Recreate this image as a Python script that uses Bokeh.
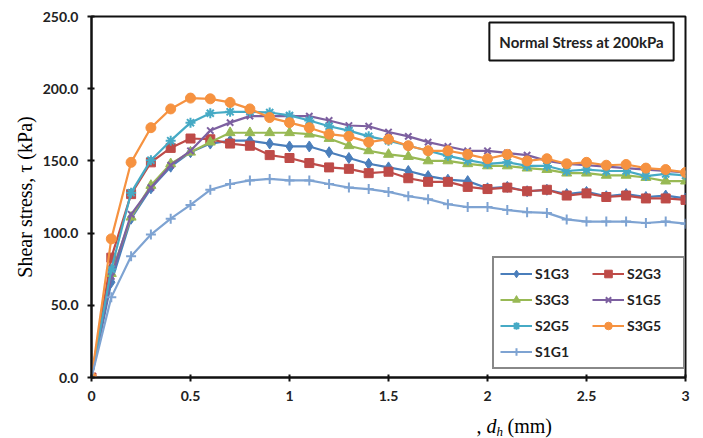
import math
from bokeh.plotting import figure
from bokeh.models import (Legend, LegendItem, Label, FixedTicker, LinearAxis,
                          NumeralTickFormatter, Range1d)
from bokeh.embed import file_html
from bokeh.resources import INLINE

# ---------------- data ----------------
dh = [0.0, 0.1, 0.2, 0.3, 0.4, 0.5, 0.6, 0.7, 0.8, 0.9, 1.0,
      1.1, 1.2, 1.3, 1.4, 1.5, 1.6, 1.7, 1.8, 1.9, 2.0,
      2.1, 2.2, 2.3, 2.4, 2.5, 2.6, 2.7, 2.8, 2.9, 3.0]

s1g3 = [0, 66, 110, 131, 146, 156, 162, 164, 164, 162, 160,
        160, 156, 152, 148, 145.5, 143, 139.5, 137, 136, 131,
        132, 129, 130, 127, 128.5, 125.5, 127, 125, 126, 124]
s2g3 = [0, 83, 127, 149, 159, 165.5, 165, 162, 160.5, 154, 152,
        148.5, 145.5, 144.5, 141.5, 142.5, 138, 135.5, 135.5, 132, 130.5,
        131.5, 129, 130, 126, 127.5, 125, 126, 124, 124, 123]
s3g3 = [0, 72, 111, 133, 148, 156, 163, 169.5, 169.5, 169.5, 169.5,
        168.5, 165.5, 160.5, 157, 154.5, 153, 150, 150, 148, 146.5,
        146.5, 145, 144, 141.5, 141.5, 140, 140, 138.5, 136, 136]
s1g5 = [0, 70, 113, 131.5, 147, 157, 171, 176.5, 181, 181, 181,
        181, 178, 174.5, 174, 170, 167, 163, 160, 157, 157,
        155.5, 154, 150, 148, 147, 146, 145, 144, 143, 142]
s2g5 = [0, 75, 128, 150.5, 164, 176.5, 183, 184, 184, 183.5, 181.5,
        178, 174, 171, 167, 164, 160.5, 157, 153.5, 150.5, 148,
        149, 146.5, 146.5, 143, 144, 143, 143, 139.5, 141, 140]
s3g5 = [0, 96, 149, 173, 186, 193.5, 193, 190.5, 186, 180, 176.5,
        173, 168.5, 167, 163, 165, 160.5, 157, 157, 154.5, 151.5,
        154.5, 150, 151.5, 148, 149, 147, 147.5, 145, 144, 142]
s1g1 = [0, 55.5, 84, 99, 110, 119.5, 130, 134, 136.5, 137.5, 136.5,
        136.5, 134, 131.5, 130.5, 128.5, 125.5, 123.5, 120, 118, 118,
        116, 114.5, 114, 109.5, 108, 108, 108, 107, 108, 106.5]

series_names = ["S1G3", "S2G3", "S3G3", "S1G5", "S2G5", "S3G5", "S1G1"]
series_values = [s1g3, s2g3, s3g3, s1g5, s2g5, s3g5, s1g1]

x_ticks = [0, 0.5, 1, 1.5, 2, 2.5, 3]
y_ticks = [0, 50, 100, 150, 200, 250]

title_text = "Normal Stress at 200kPa"
y_label_text = "Shear stress, \u03c4 (kPa)"
x_label_parts = [",", "d", "h", "(mm)"]

# ---------------- styles ----------------
colors = ["#4A7EBB", "#BE4B48", "#98B954", "#7D60A0", "#46AAC5", "#F69240", "#7EA3D2"]
markers = ["diamond", "square", "triangle", "x", "asterisk", "circle", "cross"]
msizes = [11, 9, 10, 9, 10, 10, 10]

BOLD_FONT = "Lato"
SERIF = "Liberation Serif"

p = figure(width=703, height=438, output_backend="svg", toolbar_location=None,
           x_range=Range1d(0, 3), y_range=Range1d(0, 250),
           min_border_left=91, min_border_right=18,
           min_border_top=16, min_border_bottom=61)

p.background_fill_color = "white"
p.border_fill_color = "white"
p.outline_line_color = "#111111"
p.outline_line_width = 2
p.xgrid.visible = False
p.ygrid.visible = False

for ax in (p.xaxis[0], p.yaxis[0]):
    ax.axis_line_color = "#111111"
    ax.axis_line_width = 2
    ax.major_tick_line_color = "#111111"
    ax.major_tick_line_width = 2
    ax.major_tick_in = 3
    ax.major_tick_out = 4
    ax.minor_tick_line_color = None
    ax.major_label_text_font = BOLD_FONT
    ax.major_label_text_font_style = "bold"
    ax.major_label_text_font_size = "14px"
    ax.major_label_text_color = "#222222"

p.xaxis[0].ticker = FixedTicker(ticks=x_ticks)
p.yaxis[0].ticker = FixedTicker(ticks=y_ticks)
p.xaxis[0].formatter = NumeralTickFormatter(format="0[.]0")
p.yaxis[0].formatter = NumeralTickFormatter(format="0.0")
p.xaxis[0].major_label_standoff = 9
p.yaxis[0].major_label_standoff = 9

# y-axis title: a tick-less extra axis whose bounds centre the label like the reference
ylab = LinearAxis(bounds=(0, 236), ticker=FixedTicker(ticks=[]),
                  axis_label=y_label_text, axis_line_color=None,
                  major_tick_line_color=None, minor_tick_line_color=None,
                  major_tick_in=0, major_tick_out=0, minor_tick_in=0, minor_tick_out=0,
                  major_label_text_font_size="0px", axis_label_standoff=4,
                  axis_label_text_font=SERIF, axis_label_text_font_style="normal",
                  axis_label_text_font_size="20px", axis_label_text_color="black")
p.add_layout(ylab, "left")

items = {}
for name, vals, c, m, s in zip(series_names, series_values, colors, markers, msizes):
    lr = p.line(dh, vals, line_color=c, line_width=2.2)
    sr = p.scatter(dh, vals, marker=m, size=s, fill_color=c, line_color=c,
                   line_width=2 if m in ("x", "asterisk", "cross") else 1)
    items[name] = LegendItem(label=name, renderers=[lr, sr])

# legend fills column by column: arrange so rows read S1G3 S2G3 / S3G3 S1G5 / S2G5 S3G5 / S1G1
legend_order = ["S1G3", "S3G3", "S2G5", "S1G1", "S2G3", "S1G5", "S3G5"]
legend = Legend(items=[items[n] for n in legend_order], ncols=2, location=(401, 8))
legend.margin = 0
legend.padding = 6
legend.spacing = 7
legend.glyph_width = 32
legend.glyph_height = 19
legend.label_height = 19
legend.label_width = 50
legend.label_standoff = 3
legend.label_text_font = BOLD_FONT
legend.label_text_font_style = "bold"
legend.label_text_font_size = "14px"
legend.label_text_color = "#222222"
legend.border_line_color = "#111111"
legend.border_line_width = 2
legend.background_fill_color = "white"
legend.background_fill_alpha = 1
p.add_layout(legend, "center")

def dx(px):
    return (px - 91) / 198.0

def dy(py):
    return (377 - py) / 1.444

p.add_layout(Label(x=dx(581), y=dy(41), text=title_text,
                   text_align="center", text_baseline="middle",
                   text_font=BOLD_FONT, text_font_style="bold",
                   text_font_size="15px", text_color="#222222",
                   border_line_color="#111111", border_line_width=2,
                   background_fill_color="white", padding=10))

# x-axis title with mixed styles ", d_h (mm)".  Pieces live in side panels
# (so they are not clipped to the frame); spread over panels that have spare room.
# (text centre positions in pixels)
xl_specs = [
    (x_label_parts[0], 476, 425, "normal", "20px", "right"),
    (x_label_parts[1], 486, 425, "italic", "20px", "left"),
    (x_label_parts[2], 496, 431, "italic", "13px", "right"),
    (x_label_parts[3], 507, 425, "normal", "20px", "below"),
]
for txt, px, py, style, size, side in xl_specs:
    p.add_layout(Label(x=dx(px), y=dy(py), text=txt, text_align="left",
                       text_baseline="middle", text_font=SERIF,
                       text_font_style=style, text_font_size=size,
                       text_color="black"), side)

open("out.html", "w").write(file_html(p, INLINE))
